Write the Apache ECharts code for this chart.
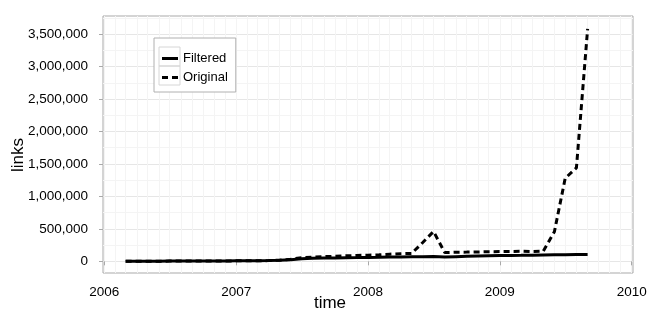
<!DOCTYPE html>
<html><head><meta charset="utf-8">
<script src="https://cdn.jsdelivr.net/npm/echarts@6/dist/echarts.min.js"></script>
<style>html,body{margin:0;padding:0;background:#fff}#c{width:650px;height:325px}</style>
</head><body><div id="c"></div>
<script>
// ---- data ----
const months = [
  '2006-03-01','2006-04-01','2006-05-01','2006-06-01','2006-07-01','2006-08-01','2006-09-01','2006-10-01','2006-11-01','2006-12-01',
  '2007-01-01','2007-02-01','2007-03-01','2007-04-01','2007-05-01','2007-06-01','2007-07-01','2007-08-01','2007-09-01','2007-10-01','2007-11-01','2007-12-01',
  '2008-01-01','2008-02-01','2008-03-01','2008-04-01','2008-05-01','2008-06-01','2008-07-01','2008-08-01','2008-09-01','2008-10-01','2008-11-01','2008-12-01',
  '2009-01-01','2009-02-01','2009-03-01','2009-04-01','2009-05-01','2009-06-01','2009-07-01','2009-08-01','2009-09-01'
];
const filtered = [
  1000,1500,2000,2500,3000,3500,4000,4500,5000,6000,
  7000,8000,9000,11000,15000,25000,40000,48000,50000,52000,55000,57000,
  60000,62000,65000,68000,70000,72000,75000,65000,72000,78000,82000,85000,
  88000,90000,92000,95000,98000,100000,102000,104000,105000
];
const original = [
  1000,1500,2000,2500,3000,3500,4000,4500,5000,6000,
  7000,8000,9000,11000,17000,32000,55000,65000,72000,78000,85000,90000,
  95000,100000,110000,118000,122000,290000,460000,135000,140000,142000,145000,148000,
  150000,152000,155000,150000,155000,455000,1280000,1440000,3580000
];
const yTickValues = [0,500000,1000000,1500000,2000000,2500000,3000000,3500000];
const xYearTicks = [2006,2007,2008,2009,2010];
const seriesNames = ['Filtered','Original'];

// ---- helpers ----
function decYear(s) {
  const [y, m, d] = s.split('-').map(Number);
  const start = Date.UTC(y, 0, 1), end = Date.UTC(y + 1, 0, 1);
  return y + (Date.UTC(y, m - 1, d) - start) / (end - start);
}
const yMinorValues = [];
for (let v = 250000; v < 3800000; v += 500000) yMinorValues.push(v);
const xMonthValues = [];
for (let y = 2006; y <= 2009; y++) for (let m = 1; m <= 12; m++) {
  xMonthValues.push(decYear(y + '-' + String(m).padStart(2,'0') + '-01'));
}
xMonthValues.push(2010);
const fmt = v => String(v).replace(/\B(?=(\d{3})+(?!\d))/g, ',');

const FONT = "'Liberation Sans', Arial, Helvetica, sans-serif";
const chart = echarts.init(document.getElementById('c'), null, {renderer:'canvas'});
const xMin = 2005.99, xMax = 2010.01;
const yMin = -180000, yMax = 3780000;

chart.setOption({
  animation: false,
  backgroundColor: '#fff',
  grid: {left: 103, right: 17, top: 16, bottom: 52, show: true, borderColor: '#a9a9a9', borderWidth: 1,
         backgroundColor: 'transparent', containLabel: false, outerBoundsMode: 'none'},
  legend: {
    data: [
      {name: seriesNames[0], icon: 'rect'},
      {name: seriesNames[1], icon: 'path://M0,0H6V3H0Z M10,0H16V3H10Z'}
    ],
    orient: 'vertical', left: 154, top: 38,
    padding: [14, 8, 8, 8], itemWidth: 16, itemHeight: 3, itemGap: 6,
    borderColor: '#b0b0b0', borderWidth: 1, backgroundColor: '#fff',
    itemStyle: {color: '#000', borderWidth: 0},
    textStyle: {fontFamily: FONT, fontSize: 13, color: '#000'}
  },
  xAxis: [
    {type: 'value', min: xMin, max: xMax, gridIndex: 0,
     axisLine: {show: false},
     axisTick: {show: true, customValues: xYearTicks, length: 4, lineStyle: {color: '#a9a9a9'}},
     axisLabel: {customValues: xYearTicks, margin: 12, color: '#000', fontFamily: FONT, fontSize: 13.5,
                 hideOverlap: false, formatter: v => String(Math.round(v))},
     splitLine: {show: true, lineStyle: {color: '#e6e6e6', width: 1}}},
    {type: 'value', min: xMin, max: xMax, gridIndex: 0, position: 'top',
     axisLine: {show: false}, axisLabel: {show: false},
     axisTick: {show: false, customValues: xMonthValues},
     splitLine: {show: true, lineStyle: {color: '#f4f4f4', width: 1}}}
  ],
  yAxis: [
    {type: 'value', min: yMin, max: yMax,
     axisLine: {show: false},
     axisTick: {show: true, customValues: yTickValues, length: 4, lineStyle: {color: '#a9a9a9'}},
     axisLabel: {customValues: yTickValues, margin: 15, color: '#000', fontFamily: FONT, fontSize: 13.5,
                 formatter: v => fmt(v)},
     splitLine: {show: true, lineStyle: {color: '#e6e6e6', width: 1}}},
    {type: 'value', min: yMin, max: yMax, position: 'right',
     axisLine: {show: false}, axisLabel: {show: false},
     axisTick: {show: false, customValues: yMinorValues},
     splitLine: {show: true, lineStyle: {color: '#f4f4f4', width: 1}}}
  ],
  series: [
    {name: seriesNames[1], type: 'line', xAxisIndex: 0, yAxisIndex: 0, symbol: 'none',
     data: months.map((m, i) => [decYear(m), original[i]]),
     lineStyle: {color: '#000', width: 3, type: [6, 4], cap: 'butt'}, itemStyle: {color: '#000'}, z: 3},
    {name: seriesNames[0], type: 'line', xAxisIndex: 0, yAxisIndex: 0, symbol: 'none',
     data: months.map((m, i) => [decYear(m), filtered[i]]),
     lineStyle: {color: '#000', width: 3, type: 'solid'}, itemStyle: {color: '#000'}, z: 4}
  ],
  graphic: [
    {type: 'rect', shape: {x: 159, y: 47, width: 21, height: 19}, style: {fill: 'none', stroke: '#d6d6d6', lineWidth: 1}, z: 100},
    {type: 'rect', shape: {x: 159, y: 66, width: 21, height: 19}, style: {fill: 'none', stroke: '#d6d6d6', lineWidth: 1}, z: 100},
    {type: 'text', x: 330, y: 303, style: {text: 'time', fontFamily: FONT, fontSize: 17, fill: '#000', textAlign: 'center', textVerticalAlign: 'middle'}},
    {type: 'text', x: 18.5, y: 155, rotation: Math.PI / 2, style: {text: 'links', fontFamily: FONT, fontSize: 17, fill: '#000', textAlign: 'center', textVerticalAlign: 'middle'}}
  ]
});
</script>
</body></html>
